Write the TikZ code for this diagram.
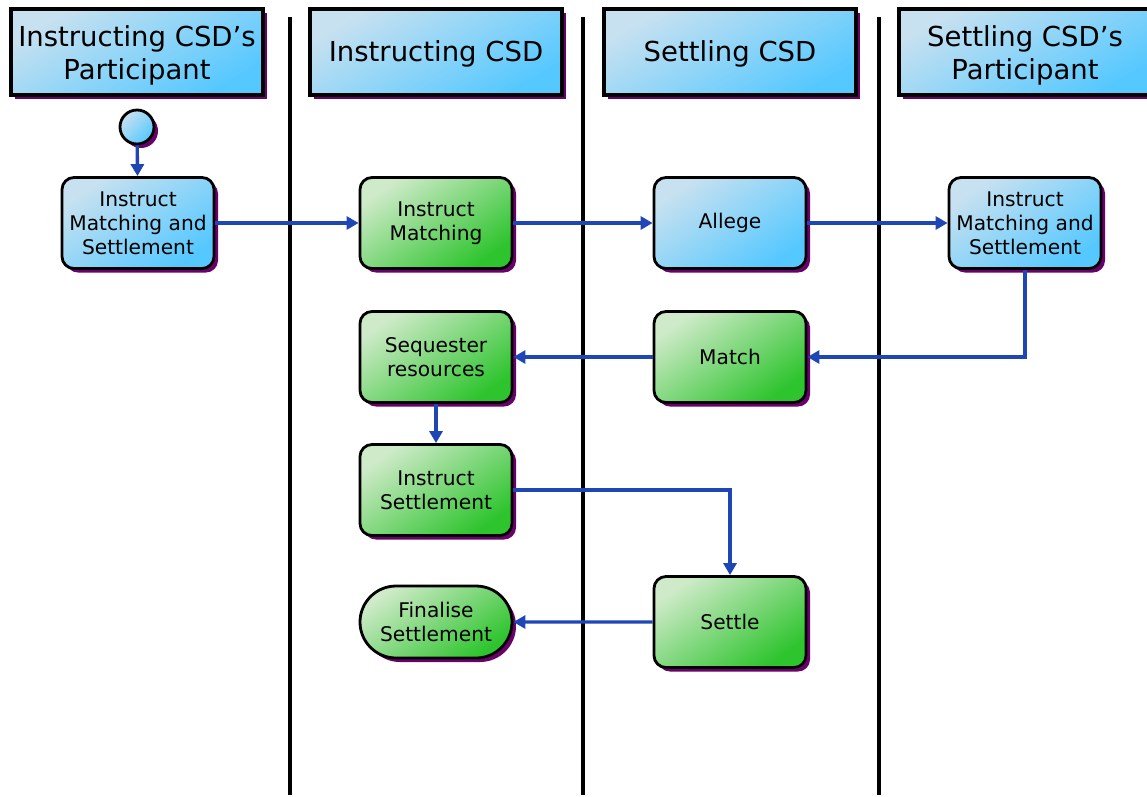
\documentclass[tikz,border=0pt]{standalone}
\usepackage{fontspec}
\setmainfont{DejaVu Sans}
\usetikzlibrary{shapes.misc,arrows.meta,shadows}
\definecolor{bluelt}{RGB}{200,225,240}
\definecolor{bluedk}{RGB}{85,200,255}
\definecolor{greenlt}{RGB}{206,234,200}
\definecolor{greendk}{RGB}{45,196,45}
\definecolor{shadowc}{RGB}{106,0,106}
\definecolor{arrowc}{RGB}{30,70,180}
\tikzset{
  shad/.style={general shadow={fill=shadowc,shadow xshift=4pt,shadow yshift=-4pt}},
  header/.style={shad,draw=black,line width=3.6pt,minimum width=252pt,minimum height=86pt,
    top color=bluelt,bottom color=bluedk,shading angle=30,inner sep=0pt},
  htext/.style={align=center,font=\fontsize{27.5}{33}\selectfont,inner sep=0pt},
  bluebox/.style={shad,draw=black,line width=2.8pt,rounded corners=12pt,minimum width=152pt,
    minimum height=91pt,top color=bluelt,bottom color=bluedk,shading angle=35,align=center,
    font=\fontsize{20.2}{24}\selectfont,inner sep=0pt},
  greenbox/.style={bluebox,top color=greenlt,bottom color=greendk,shading angle=35},
  finbox/.style={greenbox,rounded rectangle,rounded corners=0pt,minimum height=72pt},
  startc/.style={shad,circle,draw=black,line width=2.8pt,minimum size=34pt,inner sep=0pt,
    top color=bluelt,bottom color=bluedk,shading angle=45},
  flow/.style={draw=arrowc,line width=3.4pt,-{Triangle[length=12pt,width=13pt]}},
  lane/.style={line width=4.5pt,black}
}
\begin{document}
\begin{tikzpicture}[x=1pt,y=-1pt]
\useasboundingbox (0,0) rectangle (1147,796);
\clip (0,0) rectangle (1147,796);
% lane separators
\coordinate (l1t) at (290,17); \coordinate (l1b) at (290,795);
\coordinate (l2t) at (583,17); \coordinate (l2b) at (583,795);
\coordinate (l3t) at (879,17); \coordinate (l3b) at (879,795);
\draw[lane] (l1t) -- (l1b);
\draw[lane] (l2t) -- (l2b);
\draw[lane] (l3t) -- (l3b);
% headers
\node[header,label={[htext,yshift=-3.5pt]center:Instructing CSD’s\\Participant}] (h1) at (137,52) {};
\node[header,label={[htext,yshift=-2pt]center:Instructing CSD}] (h2) at (436,52) {};
\node[header,label={[htext,yshift=-2pt]center:Settling CSD}] (h3) at (730,52) {};
\node[header,label={[htext,yshift=-3.5pt]center:Settling CSD’s\\Participant}] (h4) at (1025,52) {};
% nodes
\node[startc] (start) at (137,127) {};
\node[bluebox] (ims1) at (138,223) {Instruct\\Matching and\\Settlement};
\node[greenbox] (im) at (436,223) {Instruct\\Matching};
\node[bluebox] (allege) at (730,223) {Allege};
\node[bluebox] (ims2) at (1025,223) {Instruct\\Matching and\\Settlement};
\node[greenbox] (seq) at (436,357) {Sequester\\resources};
\node[greenbox] (match) at (730,357) {Match};
\node[greenbox] (instset) at (436,490) {Instruct\\Settlement};
\node[greenbox] (settle) at (730,622) {Settle};
\node[finbox] (fin) at (436,622) {Finalise\\Settlement};
% connectors
\draw[flow] (start) -- (ims1);
\draw[flow] (ims1) -- (im);
\draw[flow] (im) -- (allege);
\draw[flow] (allege) -- (ims2);
\draw[flow] (ims2.south) |- (match.east);
\draw[flow] (match) -- (seq);
\draw[flow] (seq) -- (instset);
\draw[flow] (instset.east) -| (settle.north);
\draw[flow] (settle) -- (fin);
\end{tikzpicture}
\end{document}
